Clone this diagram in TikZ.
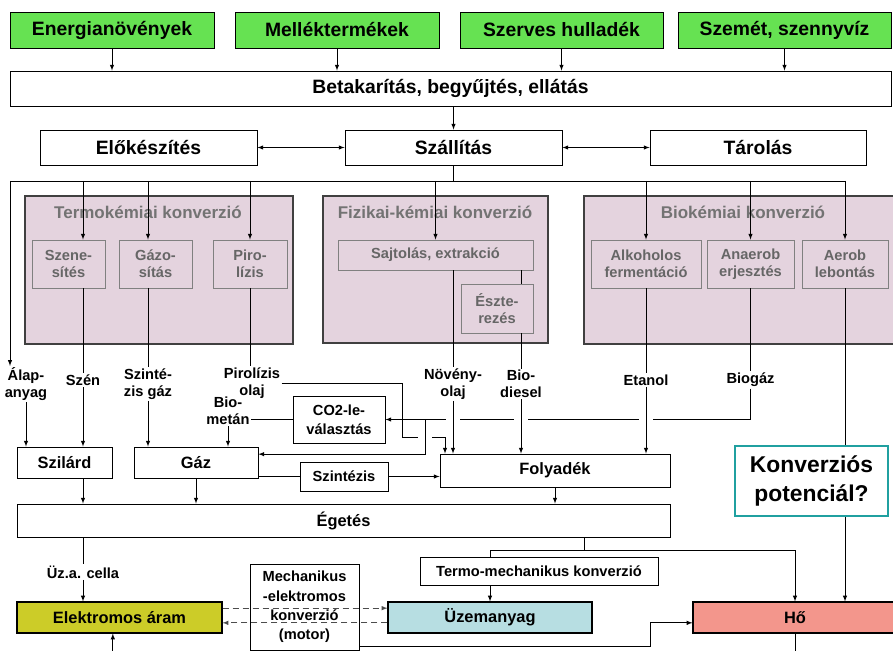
\documentclass[tikz,border=0pt]{standalone}
\usepackage{fontspec}
\setmainfont{Liberation Sans}
\definecolor{srcgreen}{RGB}{102,226,82}
\definecolor{grppink}{RGB}{228,211,222}
\definecolor{elyellow}{RGB}{204,204,40}
\definecolor{fuelblue}{RGB}{183,222,226}
\definecolor{heatred}{RGB}{243,150,140}
\definecolor{potteal}{RGB}{32,160,160}
\begin{document}
\begin{tikzpicture}[x=0.3mm, y=-0.3mm, >=latex, line width=0.7pt,
    src/.style = {draw, fill=srcgreen, inner sep=0pt, minimum height=10.8mm, font=\fontsize{16.5}{19}\selectfont\bfseries},
    stage/.style = {draw, fill=white, inner sep=0pt, minimum height=10.5mm, font=\fontsize{16.5}{19}\selectfont\bfseries},
    grp/.style = {draw=black!75, fill=grppink, line width=1pt, inner sep=0pt, minimum height=44.4mm},
    grptitle/.style = {text=black!55, font=\fontsize{14.5}{17}\selectfont\bfseries},
    sub/.style = {draw=black!50, fill=grppink, text=black!60, align=center, inner sep=0pt, font=\fontsize{12.5}{14.5}\selectfont\bfseries},
    prod/.style = {align=center, inner sep=1pt, font=\fontsize{12.5}{14.5}\selectfont\bfseries},
    form/.style = {draw, fill=white, inner sep=0pt, minimum height=9.3mm, font=\fontsize{14}{16}\selectfont\bfseries},
    proc/.style = {draw, fill=white, align=center, inner sep=0pt, font=\fontsize{12.5}{16.5}\selectfont\bfseries},
    use/.style = {draw, line width=0.9pt, inner sep=0pt, minimum height=9.3mm, font=\fontsize{14}{16}\selectfont\bfseries}]
    \useasboundingbox (0,0) rectangle (893,651);
    \fill[white] (0,0) rectangle (893,651);

    \node[src, minimum width=61.2mm] (en) at (112,30) {Energianövények};
    \node[src, minimum width=61.2mm] (mel) at (337,30) {Melléktermékek};
    \node[src, minimum width=60.9mm] (szer) at (561.5,30) {Szerves hulladék};
    \node[src, minimum width=63.9mm] (szem) at (784.5,30) {Szemét, szennyvíz};
    \node[stage, minimum width=264.3mm] (bet) at (450.5,88.5) {Betakarítás, begyűjtés, ellátás};
    \node[stage, minimum width=65.1mm] (elo) at (148.5,147.5) {Előkészítés};
    \node[stage, minimum width=65.1mm] (szal) at (453.5,147.5) {Szállítás};
    \node[stage, minimum width=64.8mm] (tar) at (758,147.5) {Tárolás};

    \node[grp, minimum width=80.4mm] (tk) at (159,270) {};
    \node[grp, minimum width=67.5mm, minimum height=44.1mm] (fk) at (435.5,269.5) {};
    \node[grp, minimum width=93.6mm] (bk) at (740,270) {};
    \node[grptitle] (tkt) at (148,212) {Termokémiai konverzió};
    \node[grptitle] (fkt) at (435,212) {Fizikai-kémiai konverzió};
    \node[grptitle] (bkt) at (743,212) {Biokémiai konverzió};

    \node[sub, minimum width=21.9mm, minimum height=14.4mm] (szn) at (68.5,264) {Szene-\\sítés};
    \node[sub, minimum width=21.9mm, minimum height=14.4mm] (gzs) at (155.5,264) {Gázo-\\sítás};
    \node[sub, minimum width=22.2mm, minimum height=14.4mm] (pir) at (250,264) {Piro-\\lízis};
    \node[sub, minimum width=58.5mm, minimum height=9mm] (sajt) at (435.5,255) {Sajtolás, extrakció};
    \node[sub, minimum width=21.6mm, minimum height=14.7mm] (esz) at (497,308.5) {Észte-\\rezés};
    \node[sub, minimum width=33mm, minimum height=14.4mm] (alk) at (646,264) {Alkoholos\\fermentáció};
    \node[sub, minimum width=26.1mm, minimum height=14.4mm] (ana) at (750.5,264) {Anaerob\\erjesztés};
    \node[sub, minimum width=25.8mm, minimum height=14.4mm] (aer) at (845,264) {Aerob\\lebontás};

    \node[prod] (alap) at (26,384) {Álap-\\anyag};
    \node[prod] (szenlab) at (83,380) {Szén};
    \node[prod] (szglab) at (148,384) {Szinté-\\zis gáz};
    \node[prod] (pirlab) at (252,383) {Pirolízis\\olaj};
    \node[prod] (biomet) at (228,411) {Bio-\\metán};
    \node[prod] (nvlab) at (453,384) {Növény-\\olaj};
    \node[prod] (bdlab) at (521,384) {Bio-\\diesel};
    \node[prod] (etlab) at (646,380) {Etanol};
    \node[prod] (bglab) at (750.5,380) {Biogáz};

    \node[form, minimum width=28.5mm] (szl) at (64.5,462.5) {Szilárd};
    \node[form, minimum width=37.2mm] (gaz) at (196,462.5) {Gáz};
    \node[proc, minimum width=27.6mm, minimum height=14.1mm] (co2) at (339,419.5) {CO2-le-\\választás};
    \node[proc, minimum width=26.4mm, minimum height=8.7mm] (szt) at (344,476.5) {Szintézis};
    \node[form, minimum width=69mm, minimum height=9.9mm] (fo) at (555,470.5) {Folyadék};
    \node[form, minimum width=195.9mm, minimum height=9.9mm] (eg) at (343.5,520.5) {Égetés};
    \node[prod] (uzlab) at (83,572) {Üz.a. cella};
    \node[proc, minimum width=71.4mm, minimum height=8.4mm] (tm) at (539,571) {Termo-mechanikus konverzió};
    \node[proc, minimum width=32.7mm, minimum height=25.8mm] (mot) at (304.5,607) {Mechanikus\\-elektromos\\konverzió\\(motor)};
    \node[use, fill=elyellow, minimum width=61.5mm] (el) at (119.5,617.5) {Elektromos áram};
    \node[use, fill=fuelblue, minimum width=61.2mm] (uz) at (490,617.5) {Üzemanyag};
    \node[use, fill=heatred, minimum width=61.2mm] (ho) at (795,617.5) {Hő};

    \coordinate (bus) at (10,181);
    \coordinate (bgl) at (425,419.5);
    \coordinate (pk) at (402,437);
    \coordinate (j1) at (584,550);
    \coordinate (j2) at (650,646);
    \coordinate (edge) at (0,651);

    \draw[->] (en) -- (en |- bet.north);
    \draw[->] (mel) -- (mel |- bet.north);
    \draw[->] (szer) -- (szer |- bet.north);
    \draw[->] (szem) -- (szem |- bet.north);
    \draw[->] (szal |- bet.south) -- (szal.north);
    \draw[<->] (elo) -- (szal);
    \draw[<->] (szal) -- (tar);
    \draw (szal.south) -- (szal.south |- bus);
    \draw (bus) -- (bus -| aer);
    \draw[->] (bus) -- (bus |- alap.north);
    \draw[->] (bus -| szenlab) -- (szenlab |- szn.north);
    \draw[->] (bus -| szglab) -- (szglab |- gzs.north);
    \draw[->] (bus -| pir) -- (pir.north);
    \draw[->] (bus -| sajt) -- (sajt.north);
    \draw[->] (bus -| alk) -- (alk.north);
    \draw[->] (bus -| ana) -- (ana.north);
    \draw[->] (bus -| aer) -- (aer.north);

    \draw (szenlab |- szn.south) -- (szenlab.north);
    \draw (szglab |- gzs.south) -- (szglab.north);
    \draw (pir.south) -- (pir.south |- pirlab.north);
    \draw (nvlab |- sajt.south) -- (nvlab.north);
    \draw (bdlab |- sajt.south) -- (bdlab |- esz.north);
    \draw (bdlab |- esz.south) -- (bdlab.north);
    \draw (alk.south) -- (etlab.north);
    \draw (ana.south) -- (bglab.north);

    \draw (bglab.south) |- ([xshift=2.2mm]etlab.south |- bgl);
    \draw ([xshift=-2.2mm]etlab.south |- bgl) -- ([xshift=2.2mm]bdlab.south |- bgl);
    \draw ([xshift=-2.2mm]bdlab.south |- bgl) -- ([xshift=2.2mm]nvlab.south |- bgl);
    \draw[->] ([xshift=-2.2mm]nvlab.south |- bgl) -- (co2.east);
    \draw[->] (bgl) |- ([yshift=2.5mm]gaz.east);
    \draw (co2.west) -- (co2.west -| biomet.east);
    \draw (pirlab.east) -| (pk) -- ([xshift=-2.1mm]bgl |- pk);
    \draw[->] ([xshift=2.1mm]bgl |- pk) -| ([xshift=-2.4mm]nvlab.south |- fo.north);

    \draw[->] (alap.south) -- (alap |- szl.north);
    \draw[->] (szenlab.south) -- (szenlab |- szl.north);
    \draw[->] (szglab.south) -- (szglab |- gaz.north);
    \draw[->] (biomet.south) -- (biomet |- gaz.north);
    \draw[->] (nvlab.south) -- (nvlab |- fo.north);
    \draw[->] (bdlab.south) -- (bdlab |- fo.north);
    \draw[->] (etlab.south) -- (etlab |- fo.north);
    \draw (szt.west -| gaz.east) -- (szt.west);
    \draw[->] (szt.east) -- (szt.east -| fo.west);

    \draw[->] (szenlab |- szl.south) -- (szenlab |- eg.north);
    \draw[->] (gaz.south) -- (gaz |- eg.north);
    \draw[->] (fo.south) -- (fo |- eg.north);
    \draw (uzlab |- eg.south) -- (uzlab.north);
    \draw[->] (uzlab.south) -- (uzlab |- el.north);
    \draw (j1 |- eg.south) -- (j1);
    \draw (j1) -| (uz |- tm.north);
    \draw[->] (j1) -| (ho.north);
    \draw[->] (uz |- tm.south) -- (uz.north);
    \draw[->] (aer.south) -- (aer |- ho.north);
    \draw (ho.south) -- (ho.south |- edge);
    \draw[->] ([xshift=-2mm]el.south |- edge) -- ([xshift=-2mm]el.south);
    \draw[->] (mot.east |- j2) -- (j2) |- ([yshift=-1.6mm]ho.west);
    \draw[->, black!70, dash pattern=on 2mm off 1mm] ([yshift=2.8mm]el.east) -- ([yshift=2.8mm]el.east -| uz.west);
    \draw[->, black!70, dash pattern=on 2mm off 1mm] ([yshift=-1.6mm]uz.west) -- ([yshift=-1.6mm]uz.west -| el.east);

    \node[draw=potteal, line width=2.2pt, fill=white, align=center, inner sep=0pt, minimum width=45.9mm, minimum height=21mm, font=\fontsize{19.5}{24}\selectfont\bfseries] (kp) at (811.5,481) {Konverziós\\potenciál?};
\end{tikzpicture}
\end{document}
